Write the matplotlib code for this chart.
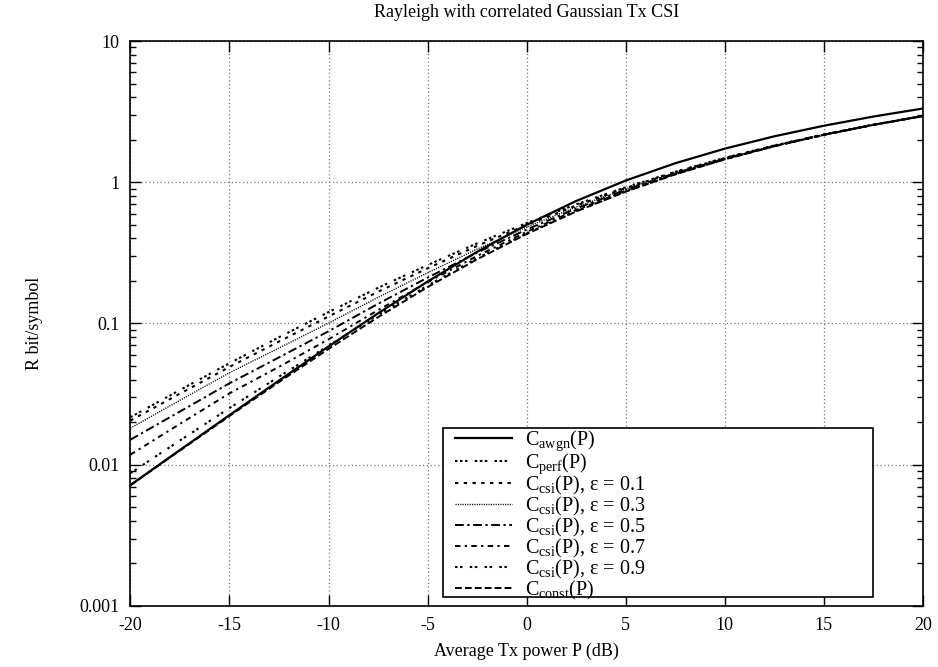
import matplotlib
matplotlib.use("Agg")
import matplotlib.pyplot as plt
from matplotlib.ticker import FixedLocator, LogLocator, NullFormatter
from matplotlib.patches import Rectangle

plt.rcParams['font.family'] = ['Liberation Serif', 'DejaVu Serif']
plt.rcParams['mathtext.fontset'] = 'custom'
plt.rcParams['mathtext.rm'] = 'Liberation Serif'
plt.rcParams['mathtext.it'] = 'Liberation Serif:italic'

power_db = [-20, -17.5, -15, -12.5, -10, -7.5, -5, -2.5, 0, 2.5, 5, 7.5, 10, 12.5, 15, 17.5, 20]

c_awgn = [0.00718, 0.01271, 0.02246, 0.03946, 0.06875, 0.1181, 0.1982, 0.3219, 0.500,
          0.7371, 1.0287, 1.3638, 1.7297, 2.1157, 2.5139, 2.9194, 3.3291]
c_perf = [0.0217, 0.0338, 0.0523, 0.0799, 0.1205, 0.179, 0.2593, 0.3696, 0.514,
          0.6978, 0.9219, 1.1875, 1.4892, 1.8226, 2.1817, 2.5582, 2.949]
c_eps01 = [0.02053, 0.03186, 0.04925, 0.07454, 0.1121, 0.1678, 0.2457, 0.3544, 0.4985,
           0.6840, 0.9107, 1.1788, 1.4833, 1.818, 2.179, 2.556, 2.948]
c_eps03 = [0.01817, 0.02858, 0.04481, 0.06706, 0.1006, 0.1532, 0.2287, 0.3365, 0.4812,
           0.6683, 0.8976, 1.1688, 1.4758, 1.814, 2.176, 2.554, 2.947]
c_eps05 = [0.01504, 0.02381, 0.03773, 0.05754, 0.0881, 0.1379, 0.2113, 0.3178, 0.4626,
           0.6512, 0.8835, 1.1578, 1.4680, 1.808, 2.172, 2.552, 2.945]
c_eps07 = [0.01178, 0.01946, 0.03202, 0.04935, 0.0772, 0.1244, 0.1960, 0.3010, 0.4457,
           0.6355, 0.8703, 1.1472, 1.4603, 1.803, 2.168, 2.550, 2.943]
c_eps09 = [0.00872, 0.01484, 0.02518, 0.04204, 0.0697, 0.1152, 0.1857, 0.2902, 0.4347,
           0.6253, 0.8617, 1.1403, 1.4553, 1.800, 2.166, 2.548, 2.942]
c_const = [0.00714, 0.01261, 0.02213, 0.03851, 0.06604, 0.1109, 0.1811, 0.2850, 0.4301,
           0.6210, 0.8579, 1.1374, 1.4532, 1.7980, 2.1650, 2.5479, 2.9418]

x_ticks = [-20, -15, -10, -5, 0, 5, 10, 15, 20]
y_ticks = [0.001, 0.01, 0.1, 1, 10]
y_tick_labels = ['0.001', '0.01', '0.1', '1', '10']

labels = [r'C$_{\mathregular{awgn}}$(P)',
          r'C$_{\mathregular{perf}}$(P)',
          r'C$_{\mathregular{csi}}$(P), ε = 0.1',
          r'C$_{\mathregular{csi}}$(P), ε = 0.3',
          r'C$_{\mathregular{csi}}$(P), ε = 0.5',
          r'C$_{\mathregular{csi}}$(P), ε = 0.7',
          r'C$_{\mathregular{csi}}$(P), ε = 0.9',
          r'C$_{\mathregular{const}}$(P)']
series = [c_awgn, c_perf, c_eps01, c_eps03, c_eps05, c_eps07, c_eps09, c_const]
styles = [
    dict(linestyle='-', linewidth=1.6),
    dict(linestyle=(0, (1.2, 1.2, 1.2, 1.2, 1.2, 3.5)), linewidth=1.5),
    dict(linestyle=(0, (1.6, 2.6)), linewidth=1.5),
    dict(linestyle=(0, (0.8, 0.9)), linewidth=1.0),
    dict(linestyle=(0, (4.5, 1.8, 1.2, 1.8)), linewidth=1.4),
    dict(linestyle=(0, (2.8, 2.2, 1.2, 2.2)), linewidth=1.4),
    dict(linestyle=(0, (1.2, 1.2, 1.2, 3.5)), linewidth=1.5),
    dict(linestyle=(0, (3.5, 1.6)), linewidth=1.4),
]

fig = plt.figure(figsize=(9.38, 6.67), dpi=100)
ax = fig.add_axes([0.139, 0.0915, 0.845, 0.847])

for ys, lab, st in zip(series, labels, styles):
    ax.plot(power_db, ys, color='black', label=lab, **st)

ax.set_yscale('log')
ax.set_xlim(-20, 20)
ax.set_ylim(0.001, 10)
ax.xaxis.set_major_locator(FixedLocator(x_ticks))
ax.set_xticklabels([str(t) for t in x_ticks])
ax.yaxis.set_major_locator(FixedLocator(y_ticks))
ax.set_yticklabels(y_tick_labels)
ax.yaxis.set_minor_locator(LogLocator(base=10, subs=range(2, 10)))
ax.yaxis.set_minor_formatter(NullFormatter())

ax.tick_params(which='both', direction='in', top=True, right=True, labelsize=13, color='black')
ax.tick_params(which='major', length=8, width=1.0, pad=8)
ax.tick_params(which='minor', length=4, width=1.0)
for s in ax.spines.values():
    s.set_linewidth(1.2)

ax.grid(True, which='major', linestyle=(0, (1, 2)), color='#777777', linewidth=0.9)

ax.set_title('Rayleigh with correlated Gaussian Tx CSI', fontsize=13, pad=17)
ax.set_xlabel('Average Tx power P (dB)', fontsize=13, labelpad=6)
ax.set_ylabel('R bit/symbol', fontsize=13, labelpad=26)

# legend box (gnuplot style, wider than its content)
ax.add_patch(Rectangle((0.3943, 0.0159), 0.5420, 0.2991, transform=ax.transAxes,
                       facecolor='white', edgecolor='black', linewidth=1.2, zorder=4))
leg = ax.legend(loc='upper left', bbox_to_anchor=(0.4095, 0.3135), fontsize=14.5,
                frameon=False, handlelength=2.85, handletextpad=0.62, borderpad=0.0,
                labelspacing=-0.1, borderaxespad=0.0)
leg.set_zorder(5)

fig.savefig('out.png', dpi=100)
